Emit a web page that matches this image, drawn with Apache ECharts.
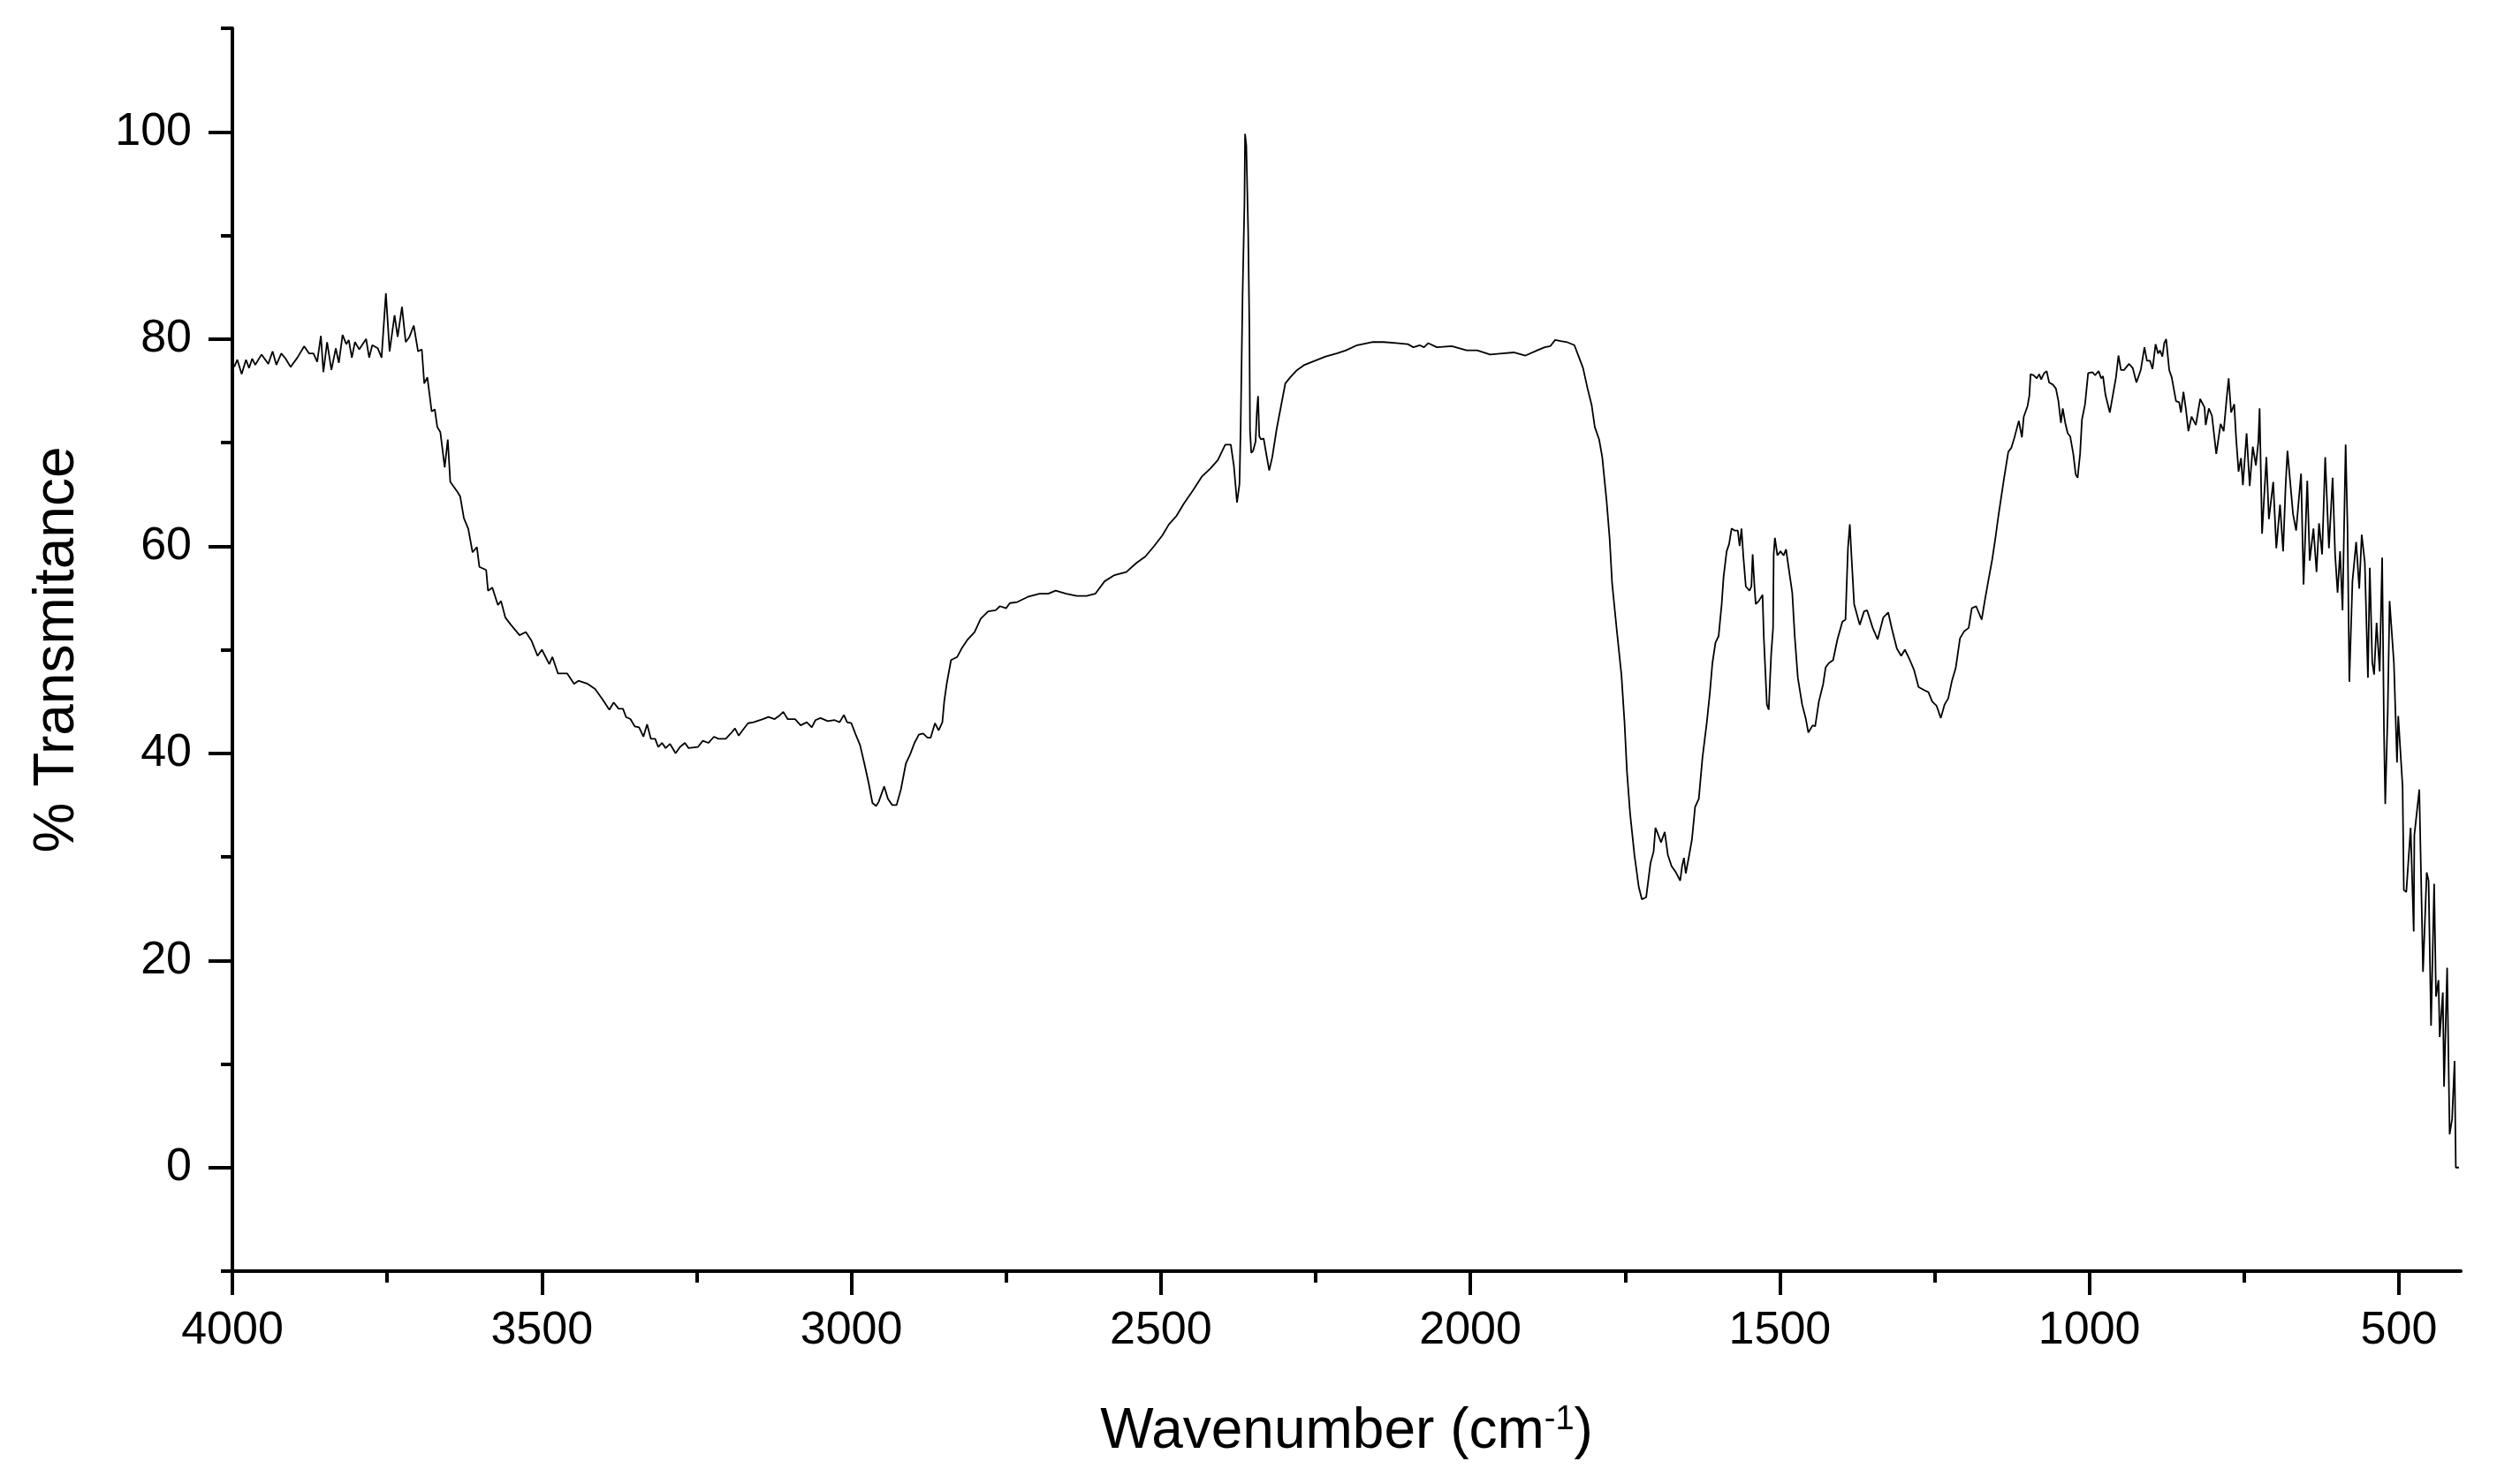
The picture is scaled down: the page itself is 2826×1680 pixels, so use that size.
<!DOCTYPE html>
<html>
<head>
<meta charset="utf-8">
<script src="https://cdn.jsdelivr.net/npm/echarts@6/dist/echarts.min.js"></script>
<style>
html,body{margin:0;padding:0;background:#ffffff;}
#chart{width:2826px;height:1680px;}
</style>
</head>
<body>
<div id="chart"></div>
<script>
// ---- DATA ----
const wavenumbers = [
3997,3992,3985,3978,3973,3968,3963,3953,3942,3935,3929,3921,3914,3906,3895,3884,3876,3869,3863,3857,
3853,3847,3840,3833,3828,3822,3816,3812,3807,3802,3795,3784,3779,3774,3765,3759,3752,3746,3738,3733,
3726,3720,3714,3707,3700,3694,3690,3685,3678,3673,3669,3664,3657,3652,3648,3636,3632,3626,3619,3612,
3605,3601,3590,3587,3580,3571,3566,3559,3550,3536,3526,3517,3507,3500,3488,3483,3474,3459,3448,3441,
3426,3414,3402,
3391,3384,3376,3369,3364,3357,3350,3343,3336,3330,3324,3317,3312,3306,3300,3293,3288,3284,3277,3269,
3263,3248,3240,3231,3222,3215,3203,3195,3188,3182,3176,3167,3158,3143,3134,3124,3117,3110,3103,3091,
3082,3072,3064,3058,3050,3038,3027,3019,3012,3007,3000,2993,2986,2979,2972,2966,2960,2956,2947,2941,
2934,2927,2920,2912,2905,2898,2891,2884,2877,2872,2865,2859,2853,2850,2846,2839,2829,2822,2812,2801,
2791,2779,2767,2760,2750,2744,2732,
2715,2696,2682,2670,2653,2636,2620,2606,2591,2575,2556,2539,2525,2511,2498,2487,2475,2463,2448,2434,
2420,2408,2396,2387,2382,2377,2373,2371,2368,2365,2364,2362,2359,2357,2356,2354,2351,2347,2345,2343,
2341,2338,2334,2330,2325,2320,2313,2306,2299,2291,2280,2268,2251,2234,2216,2201,2183,2159,2140,2120,
2101,
2092,2082,2075,2068,2054,2030,2006,1989,1968,1949,1930,1911,1892,1880,1871,1863,1854,1844,1832,1825,
1818,1811,1804,1799,1792,1787,1780,1775,1771,1763,1756,1751,1747,1742,1735,1728,1723,1716,1709,1704,
1701,1697,1692,1686,1681,1675,1668,1661,1658,1655,1652,1647,1642,1637,1631,1625,1618,1613,1609,1604,
1599,1594,1591,1586,1582,1578,1573,1568,1565,1562,1559,1555,1549,1546,1544,1541,1539,1534,1528,1526,
1523,1521,1518,1516,1514,1511,1510,1508,1504,1499,1494,1490,1487,1480,1476,1471,1464,1458,1454,1447,
1443,
1437,1430,1426,1421,1414,1407,1399,1394,1390,1387,1384,1380,1371,1364,1359,1350,1342,1333,1325,1319,
1311,1304,1298,1290,1283,1276,1267,1260,1254,1247,1240,1234,1228,1222,1216,1209,1202,1195,1190,1183,
1174,1169,1164,1157,1152,1147,1142,1138,1131,1126,1121,1114,1109,1106,1100,1097,1095,1090,1085,1081,
1078,1073,1069,1065,1059,1054,1050,1046,1043,1039,1035,1031,1026,1022,1019,1015,1012,1007,1002,995,
991,985,981,978,974,967,962,957,953,949,944,936,930,924,917,911,907,902,898,893,
889,886,882,879,876,
871,867,860,855,852,848,844,840,835,828,821,814,812,807,802,795,788,783,778,775,
771,766,763,759,755,752,746,741,736,731,727,725,721,714,710,703,698,692,687,683,
680,671,666,658,654,648,644,638,633,629,624,619,613,607,603,599,595,591,586,583,
580,575,569,564,560,555,550,547,543,540,536,531,527,524,522,518,515,508,503,501,
494,492,488,481,476,475,467,465,461,455,452,448,443,440,436,434,429,427,422,418,
414,410,408,403
];
const transmittance = [
77.3,78.0,76.6,78.0,77.2,78.1,77.5,78.5,77.6,78.8,77.5,78.6,78.1,77.3,78.2,79.3,78.6,78.6,77.8,80.3,
76.8,79.7,77.0,79.1,77.7,80.4,79.5,79.9,78.2,79.7,79.0,80.0,78.2,79.4,79.1,78.2,84.4,78.8,82.3,80.2,
83.1,79.7,80.2,81.3,78.8,79.0,75.7,76.3,73.0,73.2,71.5,71.0,67.6,70.3,66.2,65.2,64.8,62.7,61.7,59.4,
59.9,58.0,57.7,55.7,56.0,54.3,54.7,53.1,52.4,51.4,51.7,50.9,49.4,50.0,48.6,49.3,47.7,47.7,46.7,47.0,
46.7,46.2,45.2,
44.2,44.9,44.3,44.3,43.5,43.3,42.6,42.5,41.6,42.8,41.4,41.4,40.6,41.0,40.5,40.9,40.4,40.0,40.6,41.0,
40.5,40.6,41.2,41.0,41.6,41.4,41.4,41.9,42.4,41.7,42.2,42.9,43.0,43.3,43.5,43.3,43.6,44.0,43.3,43.3,
42.7,43.0,42.5,43.2,43.4,43.1,43.2,43.0,43.7,43.0,42.9,41.8,40.8,39.0,37.1,35.2,34.9,35.3,36.8,35.6,
35.0,35.0,36.5,39.0,39.9,41.0,41.8,41.9,41.5,41.5,42.9,42.2,43.0,45.0,46.7,49.0,49.3,50.1,51.0,51.7,
53.0,53.7,53.8,54.2,54.0,54.5,54.6,
55.1,55.4,55.4,55.7,55.4,55.2,55.2,55.4,56.6,57.2,57.5,58.4,59.0,60.0,61.0,62.1,62.9,64.1,65.4,66.7,
67.5,68.3,69.8,69.8,67.7,64.2,66.0,71.9,84.3,93.1,99.8,98.7,90.5,81.1,71.2,69.0,69.2,70.1,72.9,74.5,
70.6,70.3,70.4,69.0,67.3,68.6,71.3,73.5,75.7,76.3,77.0,77.5,77.9,78.3,78.6,78.9,79.4,79.7,79.7,79.6,
79.5,
79.2,79.4,79.2,79.6,79.2,79.3,78.9,78.9,78.5,78.6,78.7,78.4,78.9,79.2,79.3,79.9,79.8,79.7,79.4,78.3,
77.2,75.3,73.6,71.5,70.3,68.6,64.4,60.7,56.4,51.6,47.6,43.0,38.2,34.2,30.2,27.1,25.9,26.1,29.4,30.5,
32.8,32.2,31.4,32.4,30.2,29.1,28.5,27.7,29.1,29.9,28.4,30.0,31.7,34.8,35.6,39.6,43.0,45.9,48.7,50.7,
51.3,54.4,57.0,59.5,60.2,61.7,61.5,61.5,60.0,61.7,59.0,56.1,55.7,56.1,59.2,56.1,54.4,54.7,55.3,51.3,
47.3,44.7,44.2,47.0,49.6,52.1,59.2,60.8,59.1,59.5,59.1,59.7,58.4,55.5,51.3,47.3,44.7,43.3,42.0,42.7,
42.6,
45.0,46.7,48.3,48.7,49.0,51.0,52.7,52.9,59.8,62.1,58.7,54.4,52.4,53.7,53.8,52.1,51.0,53.1,53.6,52.0,
50.1,49.4,50.0,49.0,48.0,46.4,46.1,45.9,45.0,44.6,43.4,44.7,45.3,47.0,48.2,51.1,51.8,52.1,54.0,54.2,
52.9,54.7,56.4,58.7,60.7,62.9,64.9,66.5,69.1,69.5,70.5,72.1,70.5,72.5,73.5,74.5,76.6,76.5,76.2,76.6,
76.1,76.7,76.9,75.8,75.6,75.2,74.0,71.9,73.3,71.9,70.9,70.6,68.9,66.9,66.6,68.9,72.2,73.7,76.7,76.8,
76.5,76.9,76.2,76.4,74.6,72.9,74.6,76.3,78.4,77.0,77.0,77.6,77.2,75.8,77.0,79.2,77.9,77.9,77.1,79.5,
78.6,78.9,78.3,79.6,80.0,
77.0,76.3,74.0,73.9,72.9,74.9,73.2,71.1,72.5,71.7,74.2,73.4,71.7,73.3,72.6,68.9,71.8,71.1,74.4,76.2,
72.9,73.7,70.5,67.2,68.5,65.9,70.9,65.8,69.6,67.8,70.1,73.3,61.2,68.6,62.6,66.2,59.8,64.0,59.5,65.8,
69.2,63.1,61.5,67.0,56.3,66.3,58.6,61.7,57.5,62.2,59.2,68.6,59.8,66.6,59.2,55.5,59.5,53.8,69.8,61.9,
46.9,56.6,60.4,55.9,61.1,58.4,47.3,57.9,48.8,47.6,52.6,47.9,58.9,41.9,35.1,44.0,54.7,48.7,39.1,43.6,
36.8,26.8,26.6,32.8,22.8,32.1,36.5,30.6,18.9,28.5,27.7,13.7,27.4,16.5,18.1,12.6,16.9,7.8,19.3,3.2,
4.7,10.3,0.0,0.0
];
const xMajorTicks = [4000, 3500, 3000, 2500, 2000, 1500, 1000, 500];
const xMinorTicks = [3750, 3250, 2750, 2250, 1750, 1250, 750];
const yMajorTicks = [0, 20, 40, 60, 80, 100];
const yMinorTicks = [-10, 10, 30, 50, 70, 90, 110];
const xTitle = 'Wavenumber (cm{sup|-1})';
const yTitle = '% Transmitance';

// ---- CHART ----
const seriesData = wavenumbers.map((w, i) => [w, transmittance[i]]);
const FONT = 'Liberation Sans, Arial, sans-serif';
const AXIS_W = 4;
const plainNumber = v => String(v);

function xAxisBase() {
  return {
    type: 'value', min: 400, max: 4000, inverse: true, position: 'bottom',
    splitLine: { show: false }
  };
}
function yAxisBase() {
  return {
    type: 'value', min: -10, max: 110, position: 'left',
    splitLine: { show: false }
  };
}

const chart = echarts.init(document.getElementById('chart'), null, { renderer: 'canvas' });
chart.setOption({
  animation: false,
  backgroundColor: '#ffffff',
  grid: { left: 263, right: 41, top: 32, bottom: 241, containLabel: false, outerBoundsMode: 'none' },
  xAxis: [
    Object.assign(xAxisBase(), {
      axisLine: { show: true, onZero: false, lineStyle: { color: '#000', width: AXIS_W } },
      axisTick: { show: true, inside: false, length: 27, customValues: xMajorTicks,
                  lineStyle: { color: '#000', width: AXIS_W } },
      axisLabel: { show: true, customValues: xMajorTicks, formatter: plainNumber, fontSize: 52,
                   color: '#000', fontFamily: FONT, margin: 42 },
      name: xTitle, nameLocation: 'middle', nameGap: 150,
      nameTextStyle: { fontSize: 64, color: '#000', fontFamily: FONT,
        rich: { sup: { fontSize: 38, color: '#000', fontFamily: FONT, verticalAlign: 'top' } } }
    }),
    Object.assign(xAxisBase(), {
      axisLine: { show: false, onZero: false },
      axisTick: { show: true, inside: false, length: 13, customValues: xMinorTicks,
                  lineStyle: { color: '#000', width: AXIS_W } },
      axisLabel: { show: false }
    })
  ],
  yAxis: [
    Object.assign(yAxisBase(), {
      axisLine: { show: true, onZero: false, lineStyle: { color: '#000', width: AXIS_W } },
      axisTick: { show: true, inside: false, length: 27, customValues: yMajorTicks,
                  lineStyle: { color: '#000', width: AXIS_W } },
      axisLabel: { show: true, customValues: yMajorTicks, formatter: plainNumber, fontSize: 52,
                   color: '#000', fontFamily: FONT, margin: 46 },
      name: yTitle, nameLocation: 'middle', nameGap: 166, nameRotate: 90,
      nameTextStyle: { fontSize: 64, color: '#000', fontFamily: FONT }
    }),
    Object.assign(yAxisBase(), {
      axisLine: { show: false, onZero: false },
      axisTick: { show: true, inside: false, length: 13, customValues: yMinorTicks,
                  lineStyle: { color: '#000', width: AXIS_W } },
      axisLabel: { show: false }
    })
  ],
  series: [{
    type: 'line', xAxisIndex: 0, yAxisIndex: 0,
    data: seriesData, symbol: 'none', showSymbol: false, smooth: false,
    lineStyle: { color: '#000', width: 1.8 }, silent: true, clip: true
  }]
});
</script>
</body>
</html>
